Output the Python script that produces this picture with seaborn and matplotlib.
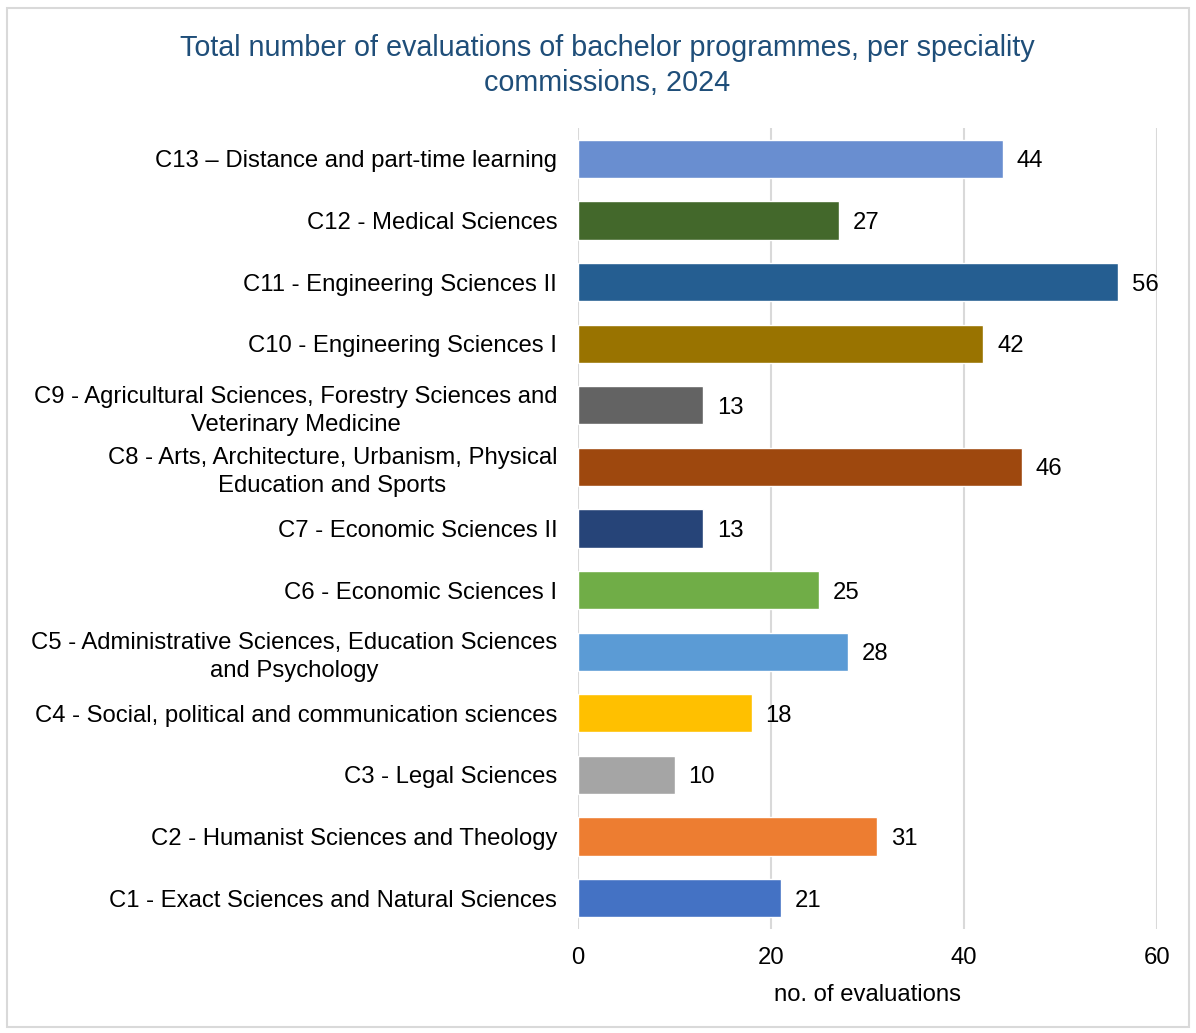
import matplotlib
matplotlib.use("Agg")
import matplotlib.pyplot as plt
import seaborn as sns
import pandas as pd
from matplotlib.patches import Rectangle

categories = [
    "C13 – Distance and part-time learning",
    "C12 - Medical Sciences",
    "C11 - Engineering Sciences II",
    "C10 - Engineering Sciences I",
    "C9 - Agricultural Sciences, Forestry Sciences and\nVeterinary Medicine",
    "C8 - Arts, Architecture, Urbanism, Physical\nEducation and Sports",
    "C7 - Economic Sciences II",
    "C6 - Economic Sciences I",
    "C5 - Administrative Sciences, Education Sciences\nand Psychology",
    "C4 - Social, political and communication sciences",
    "C3 - Legal Sciences",
    "C2 - Humanist Sciences and Theology",
    "C1 - Exact Sciences and Natural Sciences",
]
values = [44, 27, 56, 42, 13, 46, 13, 25, 28, 18, 10, 31, 21]
colors = ["#698ED0", "#43682B", "#255E91", "#997300", "#636363", "#9E480E",
          "#264478", "#70AD47", "#5B9BD5", "#FFC000", "#A5A5A5", "#ED7D31", "#4472C4"]
xticks = [0, 20, 40, 60]
title = "Total number of evaluations of bachelor programmes, per speciality\ncommissions, 2024"
xlabel = "no. of evaluations"

sns.set_theme(style="white")
plt.rcParams['font.family'] = ['Liberation Sans', 'DejaVu Sans']
plt.rcParams['text.color'] = 'black'
plt.rcParams['xtick.color'] = 'black'
plt.rcParams['ytick.color'] = 'black'
plt.rcParams['axes.labelcolor'] = 'black'

df = pd.DataFrame({"cat": categories, "val": values})

fig = plt.figure(figsize=(11.96, 10.33), dpi=100)
ax = fig.add_axes([0.4833, 0.1007, 0.4841, 0.7754])

sns.barplot(data=df, y="cat", x="val", hue="cat", palette=colors, order=categories,
            hue_order=categories, orient="h", width=0.62, legend=False, ax=ax,
            saturation=1, zorder=3)

FS = 17.2
ax.set_xlim(0, 60)
ax.set_ylim(12.5, -0.5)
ax.set_xticks(xticks)
ax.set_xticklabels([str(t) for t in xticks], fontsize=FS)
ax.tick_params(axis='y', labelsize=FS, length=0, pad=15)
ax.tick_params(axis='x', length=0, pad=13)
ax.set_ylabel("")
ax.set_xlabel(xlabel, fontsize=FS)
ax.xaxis.set_label_coords(0.5, -0.069)
for s in ax.spines.values():
    s.set_visible(False)
ax.grid(axis='x', color='#D9D9D9', linewidth=1.5, zorder=0)
ax.set_axisbelow(True)

for c in ax.containers:
    texts = ax.bar_label(c, labels=[f"{v:g}" for v in c.datavalues], padding=10, fontsize=FS)
    for t in texts:
        t.set_verticalalignment('center_baseline')

for lab in ax.get_yticklabels():
    lab.set_horizontalalignment('right')
    lab.set_multialignment('center')
    lab.set_linespacing(1.35)

fig.text(0.508, 0.967, title, ha='center', va='top', fontsize=20.7, color='#1F4E79',
         linespacing=1.32)

fig.patches.append(Rectangle((7/1196, 6/1033), 1182/1196, 1019/1033, transform=fig.transFigure,
                             fill=False, edgecolor='#D9D9D9', linewidth=1.5))

fig.savefig("out.png", dpi=100)
